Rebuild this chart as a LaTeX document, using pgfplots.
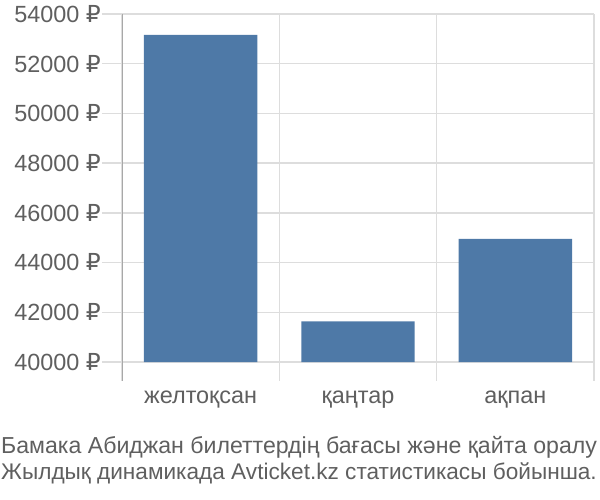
\documentclass[border=0pt]{standalone}
\usepackage{fontspec}
\setmainfont{Liberation Sans}
\newfontfamily\rubfont{DejaVu Sans}
\usepackage{pgfplots}
\pgfplotsset{compat=1.18}
\definecolor{barblue}{HTML}{4E79A7}
\definecolor{gridgray}{HTML}{DDDDDD}
\definecolor{axisgray}{HTML}{A8A8A8}
\definecolor{txtgray}{HTML}{5F5F5F}
\newcommand{\rub}{{\rubfont ₽}}
\begin{document}
\begin{tikzpicture}[x=1bp,y=1bp]
\useasboundingbox (0,0) rectangle (600,500);
\begin{axis}[
  at={(122bp,119bp)}, anchor=south west,
  scale only axis, width=472bp, height=367bp,
  xmin=-0.5, xmax=2.5,
  % bars start at 40000 ₽: y is shifted by the base value
  y filter/.expression={y-40000},
  ymin=-764, ymax=14000,
  scaled y ticks=false,
  ybar, bar width=113.4bp,
  axis line style={draw=none},
  xtick={0,1,2},
  xticklabels={желтоқсан, қаңтар, ақпан},
  x tick style={draw=none},
  extra x ticks={-0.5,0.5,1.5,2.5},
  extra x tick labels={},
  extra x tick style={grid=major, major grid style={gridgray, line width=1.3bp}},
  ytick={0,2000,...,14000},
  yticklabels={40000 \rub, 42000 \rub, 44000 \rub, 46000 \rub, 48000 \rub, 50000 \rub, 52000 \rub, 54000 \rub},
  ymajorgrids, major grid style={gridgray, line width=1.3bp},
  ytick pos=left, tick align=outside, major tick length=20bp,
  y tick style={gridgray, line width=1.3bp},
  tick label style={font=\fontsize{23.5}{28}\selectfont, text=txtgray},
  yticklabel style={inner sep=1bp},
  xticklabel style={anchor=base, yshift=-3bp},
]
\addplot[fill=barblue, draw=none, bar shift=0pt] coordinates {(0,53155) (1,41630) (2,44955)};
\draw[axisgray, line width=1.5bp] (rel axis cs:0,0) -- (rel axis cs:0,1);
\end{axis}
\node[anchor=base west, text=txtgray, font=\fontsize{23.2}{28}\selectfont, inner sep=0] at (1,46) {Бамака Абиджан билеттердің бағасы және қайта оралу};
\node[anchor=base west, text=txtgray, font=\fontsize{22.7}{28}\selectfont, inner sep=0] at (1,20) {Жылдық динамикада Avticket.kz статистикасы бойынша.};
\end{tikzpicture}
\end{document}
